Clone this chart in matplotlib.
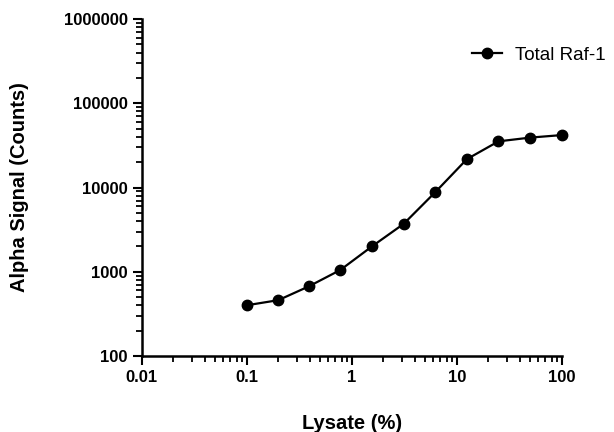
import matplotlib
matplotlib.use("Agg")
import matplotlib.pyplot as plt
from matplotlib.ticker import LogLocator, FixedLocator, NullFormatter

plt.rcParams["font.family"] = ["Liberation Sans", "DejaVu Sans"]

# Lysate dilution series (%) and alpha signal (counts)
lysate = [0.1, 0.2, 0.39, 0.78, 1.56, 3.125, 6.25, 12.5, 25, 50, 100]
signal = [400, 460, 670, 1050, 2000, 3700, 8800, 21700, 35300, 39100, 41900]
series_name = "Total Raf-1"
xticks = [0.01, 0.1, 1, 10, 100]
xtick_labels = ["0.01", "0.1", "1", "10", "100"]
yticks = [100, 1000, 10000, 100000, 1000000]
ytick_labels = ["100", "1000", "10000", "100000", "1000000"]

fig = plt.figure(figsize=(6.14, 4.32), dpi=100)
ax = fig.add_axes([141.7 / 614, 1 - 356 / 432, 420 / 614, 337 / 432])

ax.plot(lysate, signal, "-o", color="black", lw=1.6, ms=7.5,
        label=series_name, clip_on=False)
ax.set_xscale("log")
ax.set_yscale("log")
ax.set_xlim(0.01, 100)
ax.set_ylim(100, 1000000)

ax.xaxis.set_major_locator(FixedLocator(xticks))
ax.yaxis.set_major_locator(FixedLocator(yticks))
ax.set_xticklabels(xtick_labels, fontweight="bold", fontsize=12)
ax.set_yticklabels(ytick_labels, fontweight="bold", fontsize=12)
ax.xaxis.set_minor_locator(LogLocator(base=10, subs=range(2, 10), numticks=20))
ax.yaxis.set_minor_locator(LogLocator(base=10, subs=range(2, 10), numticks=20))
ax.xaxis.set_minor_formatter(NullFormatter())
ax.yaxis.set_minor_formatter(NullFormatter())

for s in ("top", "right"):
    ax.spines[s].set_visible(False)
for s in ("left", "bottom"):
    ax.spines[s].set_linewidth(1.8)
ax.tick_params(which="major", direction="out", length=6.5, width=1.5, pad=3.5,
               colors="black")
ax.tick_params(which="minor", direction="out", length=4, width=1.3)

ax.set_xlabel("Lysate (%)", fontweight="bold", fontsize=14.5, va="center")
ax.set_ylabel("Alpha Signal (Counts)", fontweight="bold", fontsize=14.5,
              va="center")
ax.xaxis.set_label_coords(0.5, -0.199)
ax.yaxis.set_label_coords(-0.292, 0.5)

ax.legend(loc="center left", bbox_to_anchor=(472 / 614, 1 - 55 / 432),
          bbox_transform=fig.transFigure, frameon=False, fontsize=13.5,
          borderpad=0, borderaxespad=0, handlelength=1.6, handletextpad=0.7)

fig.savefig("out.png", dpi=100)
